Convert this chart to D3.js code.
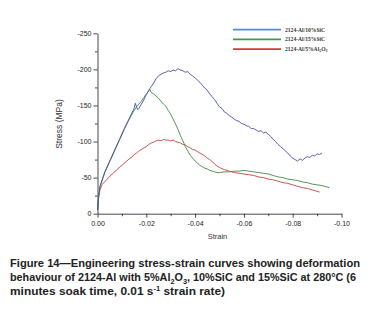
<!DOCTYPE html>
<html>
<head>
<meta charset="utf-8">
<script src="https://cdn.jsdelivr.net/npm/d3@7"></script>
<style>
  body { margin: 0; background: #fff; }
  svg { display: block; }
</style>
</head>
<body>
<div id="chart-area"></div>
<script>
// axis ticks
var xTicks = [0, -0.02, -0.04, -0.06, -0.08, -0.10];
var yTicks = [0, -50, -100, -150, -200, -250];

// legend
var seriesNames = ["2124-Al/10%SiC", "2124-Al/15%SiC", "2124-Al/5%Al2O3"];

// 2124-Al/10%SiC
var strain10 = [0, -0.0005, -0.001, -0.003, -0.005, -0.007, -0.009, -0.011, -0.013, -0.015, -0.0155, -0.016, -0.0165, -0.017, -0.018, -0.019, -0.020, -0.021, -0.022, -0.023, -0.024, -0.025, -0.026, -0.027, -0.028, -0.029, -0.030, -0.031, -0.032, -0.033, -0.034, -0.035, -0.036, -0.037, -0.038, -0.039, -0.040, -0.041, -0.042, -0.043, -0.044, -0.045, -0.046, -0.047, -0.048, -0.049, -0.050, -0.051, -0.052, -0.053, -0.054, -0.055, -0.056, -0.057, -0.058, -0.059, -0.060, -0.061, -0.062, -0.063, -0.064, -0.065, -0.066, -0.067, -0.068, -0.069, -0.070, -0.071, -0.072, -0.073, -0.074, -0.075, -0.076, -0.077, -0.078, -0.079, -0.080, -0.081, -0.082, -0.083, -0.084, -0.085, -0.086, -0.087, -0.088, -0.089, -0.090, -0.091, -0.092];
var stress10 = [-5, -25, -38, -58, -73, -88, -103, -118, -132, -146, -153, -148, -144, -146, -152, -158, -165, -171, -176, -181, -187, -191, -193, -195, -196, -198, -197, -199, -198, -201, -199, -198, -196, -197, -193, -191, -188, -185, -182, -178, -174, -171, -166, -162, -158, -153, -148, -146, -141, -139, -136, -134, -131, -129, -128, -125, -124, -122, -121, -118, -118, -116, -114, -115, -112, -113, -110, -107, -103, -100, -96, -93, -90, -87, -84, -80, -77, -75, -73, -76, -74, -77, -79, -78, -81, -80, -83, -82, -84];

// 2124-Al/15%SiC
var strain15 = [0, -0.0005, -0.001, -0.003, -0.005, -0.007, -0.009, -0.011, -0.013, -0.015, -0.016, -0.017, -0.018, -0.019, -0.020, -0.021, -0.0215, -0.022, -0.023, -0.024, -0.025, -0.026, -0.027, -0.028, -0.029, -0.030, -0.031, -0.032, -0.033, -0.034, -0.035, -0.036, -0.037, -0.038, -0.039, -0.040, -0.041, -0.042, -0.043, -0.044, -0.045, -0.046, -0.047, -0.048, -0.049, -0.050, -0.052, -0.054, -0.056, -0.058, -0.060, -0.062, -0.064, -0.066, -0.068, -0.070, -0.072, -0.074, -0.076, -0.078, -0.080, -0.082, -0.084, -0.086, -0.088, -0.090, -0.092, -0.094, -0.095];
var stress15 = [-5, -24, -37, -57, -72, -87, -102, -117, -131, -143, -148, -152, -156, -161, -166, -170, -172, -168, -166, -163, -160, -156, -152, -149, -143, -138, -131, -124, -117, -108, -101, -93, -87, -81, -77, -73, -70, -67, -65, -63, -62, -60, -59, -58, -57, -57, -58, -58, -59, -59, -60, -59, -58, -57, -56, -55, -53, -51, -50, -48, -47, -46, -44, -43, -41, -40, -39, -37, -36];

// 2124-Al/5%Al2O3
var strain5 = [0, -0.0005, -0.001, -0.002, -0.004, -0.006, -0.008, -0.010, -0.012, -0.013, -0.014, -0.015, -0.016, -0.017, -0.018, -0.019, -0.020, -0.021, -0.022, -0.023, -0.024, -0.025, -0.026, -0.027, -0.028, -0.029, -0.030, -0.031, -0.032, -0.033, -0.034, -0.035, -0.036, -0.037, -0.038, -0.039, -0.040, -0.041, -0.042, -0.043, -0.044, -0.045, -0.046, -0.047, -0.048, -0.049, -0.050, -0.052, -0.054, -0.056, -0.058, -0.060, -0.062, -0.064, -0.066, -0.068, -0.070, -0.072, -0.074, -0.076, -0.078, -0.080, -0.082, -0.084, -0.086, -0.088, -0.090, -0.091];
var stress5 = [-5, -25, -33, -41, -48, -55, -61, -67, -73, -76, -78, -82, -84, -87, -89, -91, -93, -96, -98, -99, -101, -102, -101, -103, -102, -102, -101, -102, -100, -99, -98, -96, -95, -93, -91, -89, -88, -86, -84, -82, -80, -77, -75, -72, -69, -66, -64, -61, -59, -57, -56, -55, -54, -53, -51, -50, -48, -47, -45, -43, -42, -40, -38, -36, -35, -33, -31, -30];

var W = 377, H = 314;
var margin = { top: 33.3, left: 97.5, right: 35.5, bottom: 100.3 };
var width = W - margin.left - margin.right;
var height = H - margin.top - margin.bottom;

var svg = d3.select("#chart-area")
  .append("svg")
  .attr("width", W)
  .attr("height", H);

var g = svg.append("g")
  .attr("transform", "translate(" + margin.left + "," + margin.top + ")");

var x = d3.scaleLinear().domain([0, -0.10]).range([0, width]);
var y = d3.scaleLinear().domain([0, -250]).range([height, 0]);

// minor ticks
var xMinor = [-0.01, -0.03, -0.05, -0.07, -0.09];
var yMinor = [-25, -75, -125, -175, -225];

g.append("g")
  .attr("transform", "translate(0," + height + ")")
  .call(d3.axisBottom(x).tickValues(xMinor).tickSize(2.5).tickFormat(""))
  .call(function(a) { a.select(".domain").remove(); });
g.append("g")
  .call(d3.axisLeft(y).tickValues(yMinor).tickSize(2.5).tickFormat(""))
  .call(function(a) { a.select(".domain").remove(); });

var xAxis = d3.axisBottom(x)
  .tickValues(xTicks)
  .tickSize(4)
  .tickPadding(3)
  .tickSizeOuter(0)
  .tickFormat(function(d) { return d3.format(".2f")(d).replace("\u2212", "-"); });
var yAxis = d3.axisLeft(y)
  .tickValues(yTicks)
  .tickSize(4)
  .tickPadding(2)
  .tickSizeOuter(0)
  .tickFormat(function(d) { return String(d); });

g.append("g").attr("class", "axis").attr("transform", "translate(0," + height + ")").call(xAxis);
g.append("g").attr("class", "axis").call(yAxis);

svg.selectAll(".tick line, .domain").attr("stroke", "#333").attr("stroke-width", 0.9);
svg.selectAll(".axis text")
  .attr("font-family", "Arial, 'Liberation Sans', sans-serif")
  .attr("font-size", "7px")
  .attr("fill", "#222");

// axis titles
g.append("text")
  .attr("x", width / 2 - 2)
  .attr("y", height + 25)
  .attr("text-anchor", "middle")
  .attr("font-family", "Arial, 'Liberation Sans', sans-serif")
  .attr("font-size", "7.5px")
  .attr("fill", "#333")
  .text("Strain");

svg.append("text")
  .attr("transform", "translate(62,124) rotate(-90)")
  .attr("text-anchor", "middle")
  .attr("font-family", "Arial, 'Liberation Sans', sans-serif")
  .attr("font-size", "8.5px")
  .attr("fill", "#333")
  .text("Stress (MPa)");

// curves
var line = d3.line()
  .x(function(d) { return x(d[0]); })
  .y(function(d) { return y(d[1]); });

var series = [
  { pts: d3.zip(strain5, stress5), color: "#c8403f" },
  { pts: d3.zip(strain15, stress15), color: "#3d8b45" },
  { pts: d3.zip(strain10, stress10), color: "#4a4ea6" }
];

g.selectAll(".curve")
  .data(series)
  .enter()
  .append("path")
    .attr("class", "curve")
    .attr("d", function(d) { return line(d.pts); })
    .attr("fill", "none")
    .attr("stroke", function(d) { return d.color; })
    .attr("stroke-width", 0.9);

// legend
var legendColors = ["#5a8ad0", "#3c9a50", "#d83a3a"];
var legend = svg.append("g").attr("transform", "translate(233,29.7)");
seriesNames.forEach(function(name, i) {
  var row = legend.append("g").attr("transform", "translate(0," + (i * 9.7) + ")");
  row.append("line")
    .attr("x1", 0).attr("x2", 48)
    .attr("stroke", legendColors[i])
    .attr("stroke-width", 1.8);
  var t = row.append("text")
    .attr("x", 52)
    .attr("y", 2)
    .attr("font-family", "'Liberation Serif', 'DejaVu Serif', serif")
    .attr("font-weight", "bold")
    .attr("font-size", "5.6px")
    .attr("fill", "#333");
  if (name.indexOf("Al2O3") > 0) {
    t.append("tspan").text("2124-Al/5%Al");
    t.append("tspan").attr("font-size", "4px").attr("dy", 1).text("2");
    t.append("tspan").attr("dy", -1).text("O");
    t.append("tspan").attr("font-size", "4px").attr("dy", 1).text("3");
  } else {
    t.text(name);
  }
});

// caption
var cap = svg.append("g")
  .attr("font-family", "Arial, 'Liberation Sans', sans-serif")
  .attr("font-weight", "bold")
  .attr("font-size", "11px")
  .attr("fill", "#222");

cap.append("text")
  .attr("x", 10).attr("y", 267)
  .attr("textLength", 350).attr("lengthAdjust", "spacingAndGlyphs")
  .text("Figure 14\u2014Engineering stress-strain curves showing deformation");

var c2 = cap.append("text")
  .attr("x", 10).attr("y", 281)
  .attr("textLength", 346).attr("lengthAdjust", "spacingAndGlyphs");
c2.append("tspan").text("behaviour of 2124-Al with 5%Al");
c2.append("tspan").attr("font-size", "7.5px").attr("dy", 2.5).text("2");
c2.append("tspan").attr("dy", -2.5).text("O");
c2.append("tspan").attr("font-size", "7.5px").attr("dy", 2.5).text("3");
c2.append("tspan").attr("dy", -2.5).text(", 10%SiC and 15%SiC at 280\u00b0C (6");

var c3 = cap.append("text")
  .attr("x", 10).attr("y", 295)
  .attr("textLength", 215).attr("lengthAdjust", "spacingAndGlyphs");
c3.append("tspan").text("minutes soak time, 0.01 s");
c3.append("tspan").attr("font-size", "7px").attr("dy", -4).text("-1");
c3.append("tspan").attr("dy", 4).text(" strain rate)");
</script>
</body>
</html>
